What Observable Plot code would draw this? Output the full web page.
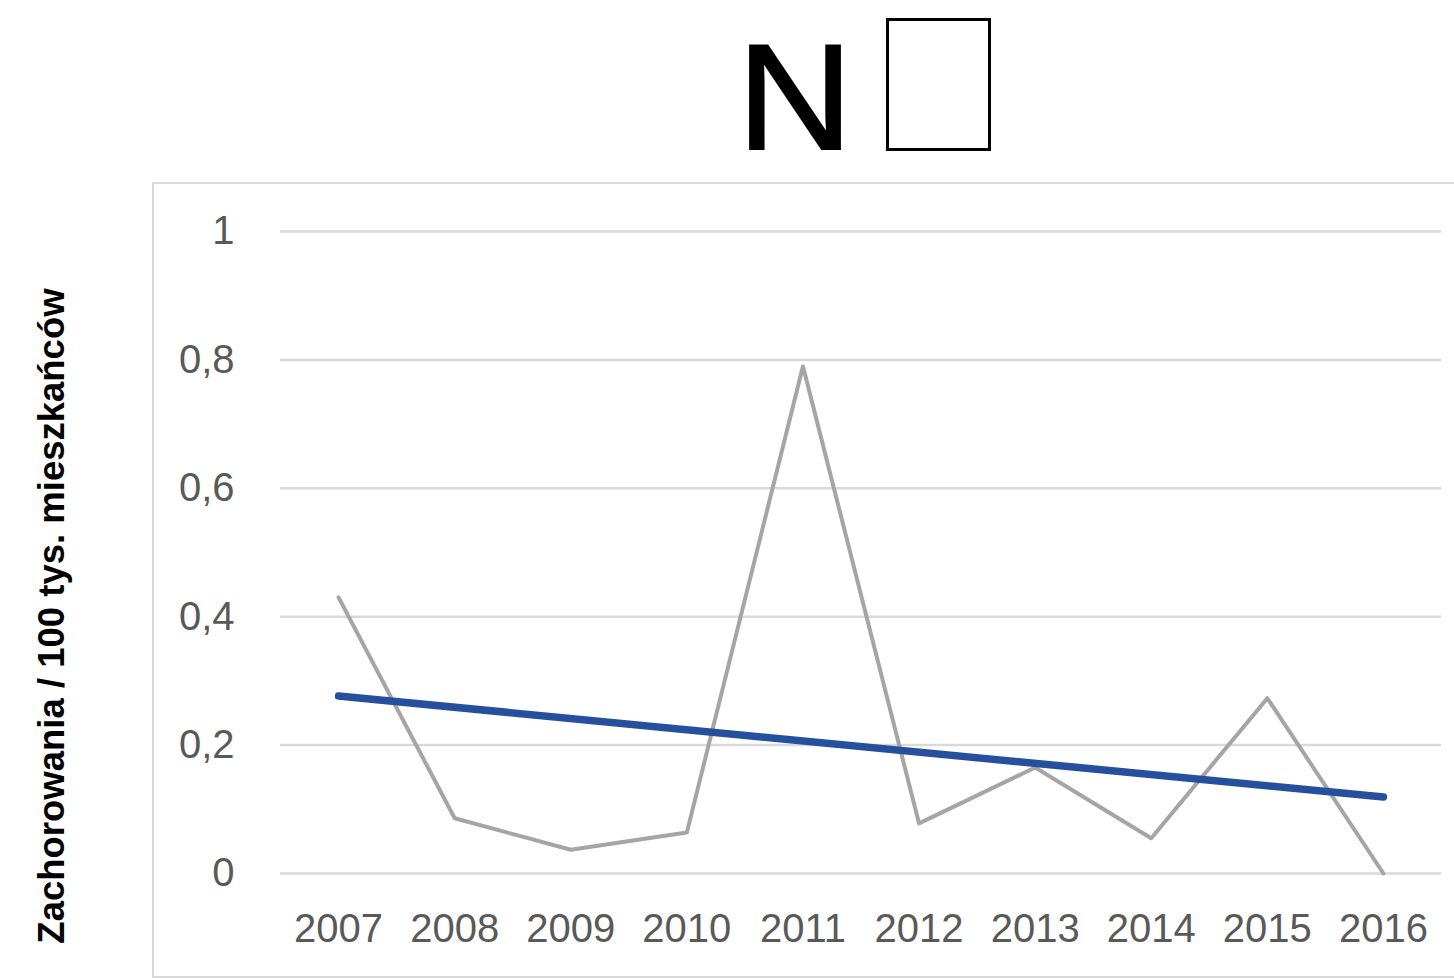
<!DOCTYPE html>
<html>
<head>
<meta charset="utf-8">
<script src="https://cdn.jsdelivr.net/npm/d3@7"></script>
<script src="https://cdn.jsdelivr.net/npm/@observablehq/plot@0.6"></script>
<style>
  html, body { margin: 0; padding: 0; background: #fff; overflow: hidden; }
  #page { position: relative; width: 1454px; height: 978px; overflow: hidden; background: #fff; }
  #frame { position: absolute; left: 152px; top: 182px; width: 1340px; height: 796px; border: 2px solid #d9d9d9; box-sizing: border-box; }
  #chart { position: absolute; left: 0; top: 0; }
  #title { position: absolute; left: 737px; top: 22px; font-family: "Liberation Sans", Arial, sans-serif; font-size: 150px; line-height: 150px; color: #000; white-space: nowrap; transform: scaleX(1.07); transform-origin: left center; -webkit-text-stroke: 2px #000; }
  #tofu { position: absolute; left: 886px; top: 18px; width: 105px; height: 133px; border: 3px solid #000; box-sizing: border-box; }
  #ylabel { position: absolute; left: 52px; top: 616px; transform: translate(-50%, -50%) rotate(-90deg); font-family: "Liberation Sans", Arial, sans-serif; font-weight: bold; font-size: 36.5px; color: #000; white-space: nowrap; }
</style>
</head>
<body>
<div id="page">
  <div id="frame"></div>
  <div id="title">N</div>
  <div id="tofu"></div>
  <div id="ylabel">Zachorowania / 100 tys. mieszkańców</div>
  <div id="chart"></div>
</div>
<script>
const years = [2007, 2008, 2009, 2010, 2011, 2012, 2013, 2014, 2015, 2016];
const values = [0.43, 0.086, 0.037, 0.064, 0.79, 0.078, 0.165, 0.055, 0.273, 0];
const yTicks = [0, 0.2, 0.4, 0.6, 0.8, 1];

const data = years.map((year, i) => ({year, value: values[i]}));

const plot = Plot.plot({
  width: 1454,
  height: 978,
  marginLeft: 280,
  marginRight: 13,
  marginTop: 231,
  marginBottom: 105,
  style: {background: "transparent", fontFamily: "'Liberation Sans', Arial, sans-serif", fontSize: "40px", color: "#595959"},
  x: {type: "linear", domain: [years[0] - 0.5, years[years.length - 1] + 0.5]},
  y: {domain: [0, 1]},
  marks: [
    Plot.ruleY(yTicks, {stroke: "#d9d9d9", strokeWidth: 2.5}),
    Plot.axisY({ticks: yTicks, tickSize: 0, tickPadding: 46, tickFormat: d => String(d).replace(".", ","), label: null, fill: "#595959"}),
    Plot.axisX({ticks: years, tickSize: 0, tickPadding: 40, tickFormat: d => String(d), label: null, fill: "#595959"}),
    Plot.line(data, {x: "year", y: "value", stroke: "#a5a5a5", strokeWidth: 4}),
    Plot.linearRegressionY(data, {x: "year", y: "value", stroke: "#264f9e", strokeWidth: 7.5, ci: 0, strokeLinecap: "round"})
  ]
});
document.getElementById("chart").appendChild(plot);
</script>
</body>
</html>
